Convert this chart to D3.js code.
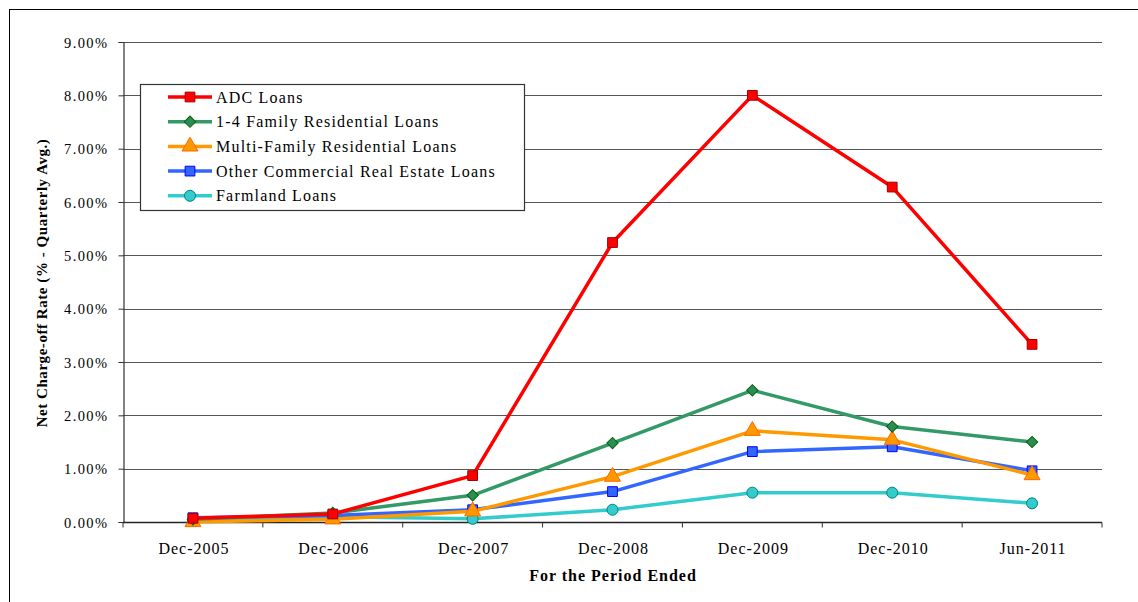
<!DOCTYPE html>
<html>
<head>
<meta charset="utf-8">
<script src="https://cdn.jsdelivr.net/npm/d3@7"></script>
<style>
  body { margin: 0; background: #fff; }
  svg text { font-family: "Liberation Serif", "Times New Roman", serif; fill: #000; }
</style>
</head>
<body>
<svg id="chart" width="1138" height="602"></svg>
<script>
const periods = ["Dec-2005", "Dec-2006", "Dec-2007", "Dec-2008", "Dec-2009", "Dec-2010", "Jun-2011"];
const yTicks = [0, 1, 2, 3, 4, 5, 6, 7, 8, 9];

const adcLoans = [0.07, 0.15, 0.87, 5.24, 8.0, 6.28, 3.33];
const familyLoans = [0.05, 0.17, 0.50, 1.48, 2.47, 1.79, 1.50];
const multiFamilyLoans = [0.0, 0.05, 0.20, 0.85, 1.71, 1.54, 0.88];
const otherCreLoans = [0.08, 0.12, 0.23, 0.57, 1.32, 1.41, 0.96];
const farmlandLoans = [0.02, 0.10, 0.06, 0.23, 0.55, 0.55, 0.35];

const series = [
  { name: "ADC Loans", values: adcLoans, color: "#ff0000", fill: "#ff0000", stroke: "#a00000", symbol: "square" },
  { name: "1-4 Family Residential Loans", values: familyLoans, color: "#339966", fill: "#2e8b57", stroke: "#006600", symbol: "diamond" },
  { name: "Multi-Family Residential Loans", values: multiFamilyLoans, color: "#ff9900", fill: "#ff9900", stroke: "#ff6600", symbol: "triangle" },
  { name: "Other Commercial Real Estate Loans", values: otherCreLoans, color: "#3366ff", fill: "#3366ff", stroke: "#0000ff", symbol: "square" },
  { name: "Farmland Loans", values: farmlandLoans, color: "#33cccc", fill: "#33cccc", stroke: "#008080", symbol: "circle" }
];

const svg = d3.select("#chart");
const margin = { left: 123, right: 36, top: 42, bottom: 80 };
const W = 1138, H = 602;

// outer frame
svg.append("rect").attr("x", 9.5).attr("y", 9.5).attr("width", 1140).attr("height", 600)
  .attr("fill", "none").attr("stroke", "#000").attr("stroke-width", 1);

const x = d3.scaleBand().domain(periods).range([margin.left, W - margin.right]);
const y = d3.scaleLinear().domain([0, 9]).range([H - margin.bottom, margin.top]);

// gridlines
svg.append("g").selectAll("line").data(yTicks.filter(d => d > 0)).enter().append("line")
  .attr("x1", margin.left).attr("x2", W - margin.right)
  .attr("y1", d => Math.round(y(d)) + 0.5).attr("y2", d => Math.round(y(d)) + 0.5)
  .attr("stroke", "#555").attr("stroke-width", 1.2);

// y axis
const yAxis = svg.append("g").attr("transform", `translate(${margin.left + 0.5},0)`)
  .call(d3.axisLeft(y).tickValues(yTicks).tickSize(5).tickPadding(10).tickFormat(d => d.toFixed(2) + "%"));
yAxis.select(".domain").attr("stroke", "#333").attr("stroke-width", 1.2);
yAxis.selectAll(".tick line").attr("stroke", "#333");
yAxis.selectAll("text").style("font-size", "14.5px").style("letter-spacing", "1.4px").attr("dy", "0.35em");

// x axis
const boundaries = periods.map(p => x(p)).concat([x.range()[1]]);
const xAxisG = svg.append("g").attr("transform", `translate(0,${Math.round(y(0)) + 0.5})`);
xAxisG.append("line").attr("x1", margin.left).attr("x2", W - margin.right)
  .attr("stroke", "#222").attr("stroke-width", 1.5);
xAxisG.selectAll(".bt").data(boundaries).enter().append("line")
  .attr("x1", d => d).attr("x2", d => d).attr("y1", 0).attr("y2", 5)
  .attr("stroke", "#333");
xAxisG.selectAll(".lbl").data(periods).enter().append("text")
  .attr("x", d => x(d) + x.bandwidth() / 2 + 1).attr("y", 31)
  .attr("text-anchor", "middle").style("font-size", "16px").style("letter-spacing", "1px").text(d => d);

// axis titles
svg.append("text").attr("x", 613).attr("y", 581).attr("text-anchor", "middle")
  .style("font-size", "16px").style("font-weight", "bold").style("letter-spacing", "1px").text("For the Period Ended");
svg.append("text").attr("transform", "translate(47,283) rotate(-90)").attr("text-anchor", "middle")
  .style("font-size", "15px").style("font-weight", "bold").style("letter-spacing", "0.55px")
  .text("Net Charge-off Rate (% - Quarterly Avg.)");

const cx = p => x(p) + x.bandwidth() / 2;
const symbolSize = { square: 95, diamond: 64, triangle: 110, circle: 95 };
const symbolType = { square: d3.symbolSquare, diamond: d3.symbolSquare, triangle: d3.symbolTriangle, circle: d3.symbolCircle };
const symbolRot = s => s === "diamond" ? " rotate(45)" : "";

const line = d3.line().x((d, i) => cx(periods[i])).y(d => y(d));

// draw from back to front so ADC is on top
series.slice().reverse().forEach(s => {
  const g = svg.append("g");
  g.append("path").datum(s.values).attr("d", line)
    .attr("fill", "none").attr("stroke", s.color).attr("stroke-width", 3.5).attr("stroke-linejoin", "round");
  g.selectAll("path.m").data(s.values).enter().append("path").attr("class", "m")
    .attr("transform", (d, i) => `translate(${cx(periods[i])},${y(d)})${symbolRot(s.symbol)}`)
    .attr("d", d3.symbol().type(symbolType[s.symbol]).size(symbolSize[s.symbol]))
    .attr("fill", s.fill).attr("stroke", s.stroke).attr("stroke-width", 1);
});

// legend
const legend = svg.append("g").attr("transform", "translate(140,84)");
legend.append("rect").attr("x", 0.5).attr("y", 0.5).attr("width", 384).attr("height", 126)
  .attr("fill", "#fff").attr("stroke", "#333").attr("stroke-width", 1.2);
series.forEach((s, i) => {
  const item = legend.append("g").attr("transform", `translate(0,${13 + i * 24.7})`);
  item.append("line").attr("x1", 28).attr("x2", 72).attr("stroke", s.color).attr("stroke-width", 3.5);
  item.append("path").attr("transform", `translate(50,0)${symbolRot(s.symbol)}`)
    .attr("d", d3.symbol().type(symbolType[s.symbol]).size(symbolSize[s.symbol]))
    .attr("fill", s.fill).attr("stroke", s.stroke).attr("stroke-width", 1);
  item.append("text").attr("x", 76).attr("dy", "0.35em").style("font-size", "16px")
    .style("letter-spacing", "1.2px").text(s.name);
});
</script>
</body>
</html>
